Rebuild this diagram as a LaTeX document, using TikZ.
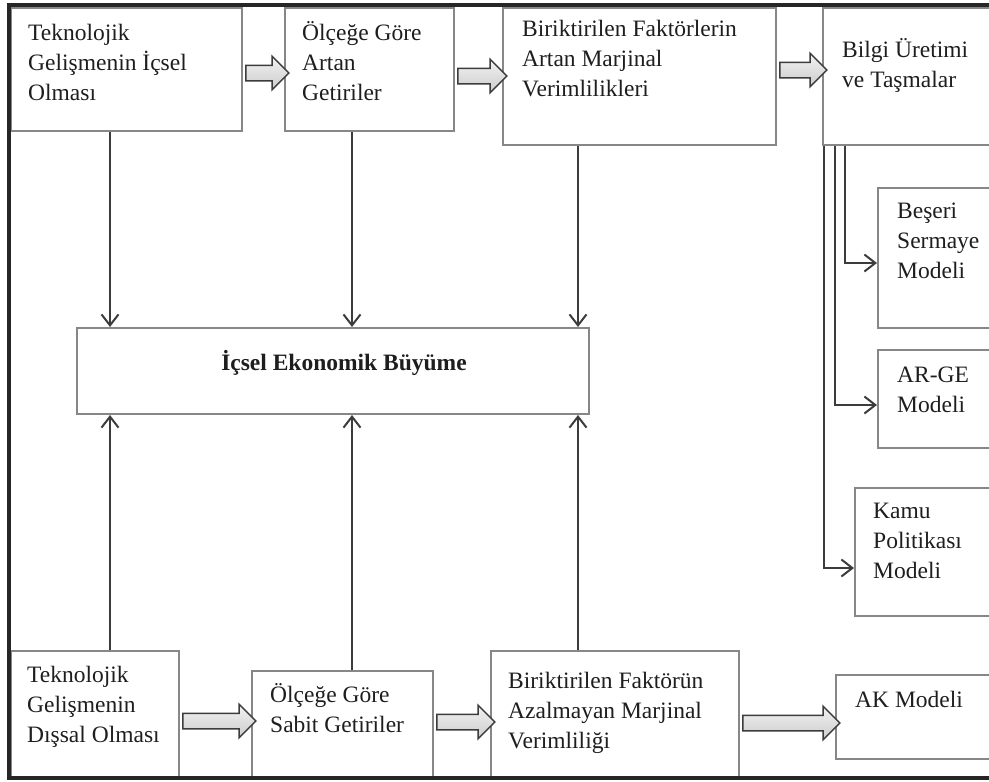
\documentclass[tikz,border=0pt]{standalone}
\usepackage{fontspec}
\setmainfont{Liberation Serif}
\usetikzlibrary{%
        arrows.meta,
        calc,
        shapes.arrows
    }
\definecolor{cizgi}{RGB}{60, 60, 60}
\definecolor{kenar}{RGB}{135, 135, 135}
\definecolor{yazirenk}{RGB}{30, 30, 30}

\tikzset{
    kutu/.style={draw=kenar, line width=2pt, anchor=north west, inner sep=0pt},
    yazi/.style={anchor=north west, inner sep=0pt, align=left, text=yazirenk,
        font=\fontsize{23.5}{30}\selectfont},
    ok/.style={draw=cizgi, line width=2pt, -{Straight Barb[length=11pt, width=17pt]}},
    blokok/.style={single arrow, draw=cizgi, line width=1.5pt,
        top color=gray!10, bottom color=gray!40, inner xsep=0pt, inner ysep=7pt,
        single arrow head extend=9pt, minimum width=0pt}
}

\begin{document}
\begin{tikzpicture}[x=1pt, y=-1pt]

    \clip (0, 0) rectangle (989, 782);

    % top row
    \node[kutu, minimum width=231pt, minimum height=123pt] (tg1) at (10, 7) {};
    \node[kutu, minimum width=169pt, minimum height=123pt] (tg2) at (284, 7) {};
    \node[kutu, minimum width=273pt, minimum height=137pt] (tg3) at (502, 7) {};
    \node[kutu, minimum width=190pt, minimum height=137pt] (tg4) at (822, 7) {};

    \node[yazi] (tg1y) at ([shift={(18, 12)}]tg1.north west)
        {\strut Teknolojik\\Gelişmenin İçsel\\Olması};
    \node[yazi] (tg2y) at ([shift={(18, 12)}]tg2.north west)
        {\strut Ölçeğe Göre\\Artan\\Getiriler};
    \node[yazi] (tg3y) at ([shift={(20, 8)}]tg3.north west)
        {\strut Biriktirilen Faktörlerin\\Artan Marjinal\\Verimlilikleri};
    \node[yazi] (tg4y) at ([shift={(20, 29)}]tg4.north west)
        {\strut Bilgi Üretimi\\ve Taşmalar};

    % models on the right
    \node[kutu, minimum width=130pt, minimum height=140pt] (bs) at (877, 187) {};
    \node[kutu, minimum width=130pt, minimum height=98pt] (arge) at (877, 349) {};
    \node[kutu, minimum width=150pt, minimum height=128pt] (kp) at (854, 487) {};
    \node[kutu, minimum width=170pt, minimum height=84pt] (ak) at (835, 674) {};

    \node[yazi] (bsy) at ([shift={(20, 10)}]bs.north west)
        {\strut Beşeri\\Sermaye\\Modeli};
    \node[yazi] (argey) at ([shift={(20, 12)}]arge.north west)
        {\strut AR-GE\\Modeli};
    \node[yazi] (kpy) at ([shift={(19, 10)}]kp.north west)
        {\strut Kamu\\Politikası\\Modeli};
    \node[yazi] (aky) at ([shift={(20, 12)}]ak.north west)
        {\strut AK Modeli};

    % centre
    \node[kutu, minimum width=512pt, minimum height=86pt] (eb) at (76, 327) {};
    \node[anchor=base, inner sep=0pt, text=yazirenk,
        font=\fontsize{23.5}{30}\selectfont\bfseries] (eby) at (344, 370)
        {İçsel Ekonomik Büyüme};

    % bottom row
    \node[kutu, minimum width=168pt, minimum height=128pt] (dg1) at (10, 650) {};
    \node[kutu, minimum width=181pt, minimum height=108pt] (dg2) at (251, 670) {};
    \node[kutu, minimum width=248pt, minimum height=128pt] (dg3) at (490, 650) {};

    \node[yazi] (dg1y) at ([shift={(17, 11)}]dg1.north west)
        {\strut Teknolojik\\Gelişmenin\\Dışsal Olması};
    \node[yazi] (dg2y) at ([shift={(19, 11)}]dg2.north west)
        {\strut Ölçeğe Göre\\Sabit Getiriler};
    \node[yazi] (dg3y) at ([shift={(18, 17)}]dg3.north west)
        {\strut Biriktirilen Faktörün\\Azalmayan Marjinal\\Verimliliği};

    \foreach \ust/\alt/\x in {tg1/dg1/110, tg2/dg2/352, tg3/dg3/578} {%
        \draw[ok] (\ust.south -| \x, 0) -- (eb.north -| \x, 0);
        \draw[ok] (\alt.north -| \x, 0) -- (eb.south -| \x, 0);
    };

    \draw[ok] (tg4.south -| 845, 0) |- (bs.west |- 0, 263);
    \draw[ok] (tg4.south -| 835, 0) |- (arge.west |- 0, 405);
    \draw[ok] (tg4.south -| 824, 0) |- (kp.west |- 0, 568);

    \foreach \a/\b/\y/\u [count=\i] in {tg1/tg2/73/43, tg2/tg3/76/49, tg3/tg4/70/47,
        dg1/dg2/721/73, dg2/dg3/722/58, dg3/ak/723/97} {%
        \node[blokok, minimum height=\u pt] (ok\i)
            at ($(\a.east |- 0, \y)!.5!(\b.west |- 0, \y)$) {};
    };

    \draw[line width=4pt, black!85] (9, 5) rectangle (1010, 778);

\end{tikzpicture}
\end{document}
